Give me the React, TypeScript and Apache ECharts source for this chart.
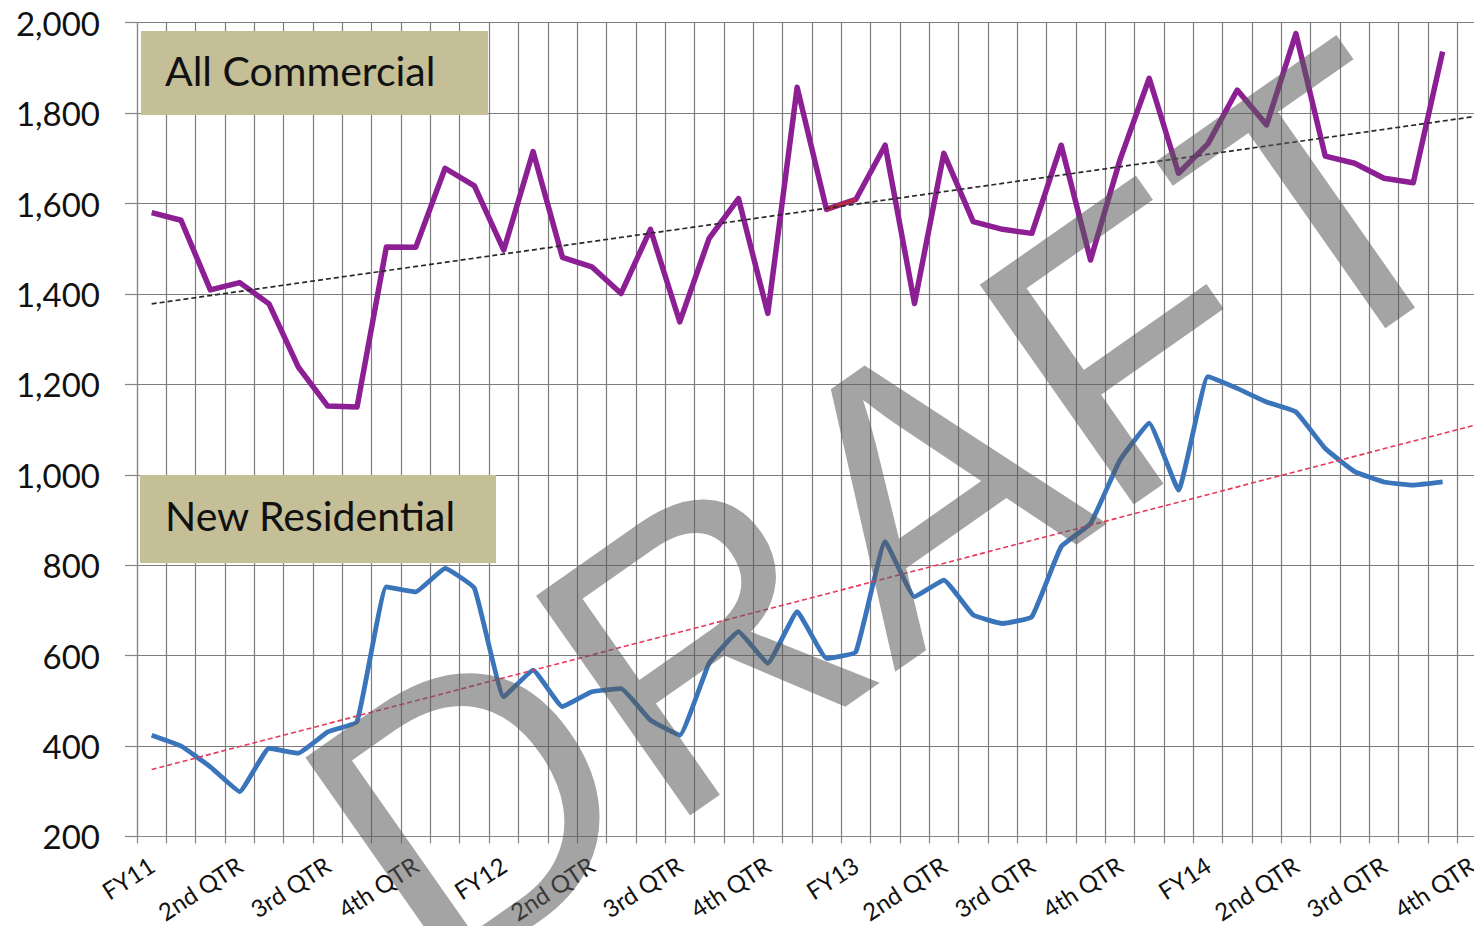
import React, { useEffect, useRef } from "react";
import * as echarts from "echarts";

// ---- data ----
const fiscalYears = ["FY11", "FY12", "FY13", "FY14"];
const quarterNames = ["2nd QTR", "3rd QTR", "4th QTR"];
const categories: string[] = fiscalYears.flatMap((fy) =>
  Array.from({ length: 12 }, (_, m) => `${fy} M${m + 1}`)
);
const tickLabels: string[] = fiscalYears.flatMap((fy) => [fy, ...quarterNames]);

const allCommercial = [
  1580, 1563, 1409, 1425, 1378, 1238, 1152, 1150, 1504, 1503, 1678, 1639,
  1497, 1715, 1481, 1460, 1401, 1543, 1338, 1523, 1611, 1357, 1857, 1587,
  1609, 1729, 1379, 1711, 1560, 1543, 1534, 1729, 1475, 1696, 1877, 1667,
  1732, 1851, 1774, 1976, 1705, 1689, 1656, 1646, 1936,
];
const newResidential = [
  424, 400, 354, 299, 395, 384, 431, 454, 752, 741, 793, 749,
  509, 568, 487, 520, 527, 457, 424, 583, 653, 583, 697, 594,
  608, 852, 730, 767, 690, 671, 686, 841, 892, 1032, 1114, 966,
  1217, 1191, 1161, 1139, 1058, 1007, 984, 977, 984,
];
// linear trend line end values (first and last category)
const commercialTrend = [1378, 1810];
const residentialTrend = [348, 1142];
// short red-tinted stretch on the commercial line
const redStretch = [23, 24];

const yTicks = { min: 200, max: 2000, interval: 200 };

export default function App() {
  const ref = useRef<HTMLDivElement>(null);

  useEffect(() => {
    if (!ref.current) return;
    const chart = echarts.init(ref.current, undefined, { renderer: "svg" });
    const last = categories.length - 1;
    const font = "Lato";
    chart.setOption({
      animation: false,
      backgroundColor: "#ffffff",
      grid: {
        left: 137,
        right: 14.7,
        top: 22.7,
        bottom: 89.6,
        containLabel: false,
        outerBoundsMode: "none",
      },
      xAxis: {
        type: "category",
        data: categories,
        boundaryGap: true,
        axisLine: { show: true, lineStyle: { color: "#868686", width: 1.2 } },
        axisTick: { show: true, interval: 0, length: 7, lineStyle: { color: "#868686", width: 1.2 } },
        splitLine: { show: true, interval: 0, lineStyle: { color: "#7c7c7c", width: 1.2 } },
        axisLabel: {
          interval: 2,
          rotate: 33,
          margin: 26,
          fontFamily: font,
          fontSize: 24,
          color: "#111",
          formatter: (_v: string, i: number) => (i % 3 === 0 ? tickLabels[i / 3] : ""),
        },
      },
      yAxis: {
        type: "value",
        min: yTicks.min,
        max: yTicks.max,
        interval: yTicks.interval,
        axisLine: { show: true, lineStyle: { color: "#868686", width: 1.2 } },
        axisTick: { show: true, length: 12, lineStyle: { color: "#868686", width: 1.2 } },
        splitLine: { show: true, lineStyle: { color: "#7c7c7c", width: 1.2 } },
        axisLabel: {
          margin: 37,
          fontFamily: font,
          fontSize: 33,
          color: "#111",
          formatter: (v: number) => v.toLocaleString("en-US"),
        },
      },
      series: [
        {
          name: "All Commercial",
          type: "line",
          data: allCommercial,
          symbol: "none",
          z: 3,
          lineStyle: { color: "#8c1f94", width: 5.5, join: "round" },
        },
        {
          name: "All Commercial red stretch",
          type: "line",
          data: redStretch.map((i) => [categories[i], allCommercial[i]]),
          symbol: "none",
          z: 4,
          lineStyle: { color: "#b8283e", width: 3.5 },
        },
        {
          name: "New Residential",
          type: "line",
          data: newResidential,
          symbol: "none",
          smooth: 0.1,
          z: 3,
          lineStyle: { color: "#3a74ba", width: 4.8, join: "round" },
        },
        {
          name: "Commercial trend",
          type: "line",
          data: [
            [categories[0], commercialTrend[0]],
            [categories[last], commercialTrend[1]],
          ],
          symbol: "none",
          z: 5,
          lineStyle: { color: "#2a2a2a", width: 1.7, type: [5, 3] },
        },
        {
          name: "Residential trend",
          type: "line",
          data: [
            [categories[0], residentialTrend[0]],
            [categories[last], residentialTrend[1]],
          ],
          symbol: "none",
          z: 5,
          lineStyle: { color: "#e8385a", width: 1.6, type: [5, 3] },
        },
      ],
      graphic: [
        {
          type: "group",
          z: 10,
          children: [
            { type: "rect", shape: { x: 141, y: 31, width: 347, height: 84 }, style: { fill: "#c4bf97" }, z: 10 },
            {
              type: "text",
              x: 165,
              y: 70,
              z: 11,
              style: { text: "All Commercial", fontFamily: font, fontSize: 41, fill: "#111", align: "left", verticalAlign: "middle" },
            },
            { type: "rect", shape: { x: 140, y: 475, width: 356, height: 88 }, style: { fill: "#c4bf97" }, z: 10 },
            {
              type: "text",
              x: 165,
              y: 515,
              z: 11,
              style: { text: "New Residential", fontFamily: font, fontSize: 41, fill: "#111", align: "left", verticalAlign: "middle" },
            },
          ],
        },
        {
          type: "text",
          x: 888,
          y: 512,
          rotation: (35 * Math.PI) / 180,
          z: 100,
          style: {
            text: "DRAFT",
            fontFamily: "Liberation Sans",
            fontSize: 390,
            fill: "rgba(90,90,90,0.55)",
            align: "center",
            verticalAlign: "middle",
          },
        },
      ],
    });
    return () => chart.dispose();
  }, []);

  return (
    <div style={{ position: "fixed", left: 0, top: 0, width: 1474, height: 926, overflow: "hidden", background: "#fff" }}>
      <div ref={ref} style={{ width: 1560, height: 926 }} />
    </div>
  );
}
